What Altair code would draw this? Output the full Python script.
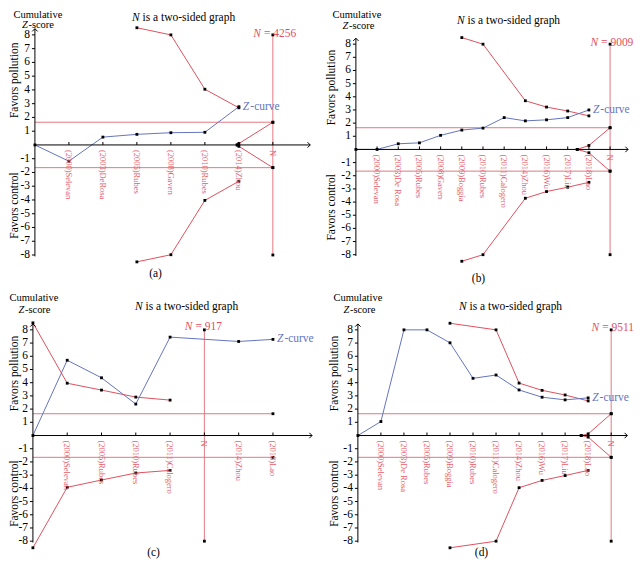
import altair as alt
import pandas as pd

FONT = "Liberation Serif, DejaVu Serif, serif"
RED = "#e0505e"
RED_LIGHT = "#e27883"
BLUE = "#6474c0"
LABEL_RED = "#e2606c"

# ---------------- data: panel (a) ----------------
A_LABELS = ["(2000)Selevan", "(2003)DeRosa", "(2005)Rubes", "(2008)Gaven",
            "(2010)Rubes", "(2014)Zhou", "N"]
A_Z_X = [0, 1, 2, 3, 4, 5, 6]
A_Z = [0, -1.18, 0.57, 0.77, 0.89, 0.92, 2.78]
A_B_X = [3, 4, 5, 6]
A_UPPER = [8.52, 8.0, 4.05, 2.70]
A_LOWER = [-8.50, -7.98, -4.03, -2.64]
A_W_X = [5.95, 6, 7]
A_W_UP = [0, 0.10, 1.65]
A_W_LO = [0, -0.10, -1.65]
A_N_POS = 7
A_N = 4256

# ---------------- data: panel (b) ----------------
B_LABELS = ["(2000)Selevan", "(2003)De Rosa", "(2005)Rubes", "(2008)Gaven",
            "(2009)Boggia", "(2010)Rubes", "(2011)Calogero", "(2014)Zhou",
            "(2016)Wu", "(2017)Liu", "(2018)Lao", "N"]
B_Z_X = [0, 1, 2, 3, 4, 5, 6, 7, 8, 9, 10, 11]
B_Z = [0, 0.0, 0.43, 0.50, 1.07, 1.47, 1.62, 2.42, 2.17, 2.25, 2.42, 3.00]
B_B_X = [5, 6, 8, 9, 10, 11]
B_UPPER = [8.50, 8.0, 3.70, 3.22, 2.92, 2.55]
B_LOWER = [-8.50, -8.0, -3.71, -3.20, -2.87, -2.50]
B_W_X = [10.45, 11, 12]
B_W_UP = [0, 0.30, 1.65]
B_W_LO = [0, -0.25, -1.65]
B_N_POS = 12
B_N = 9009

# ---------------- data: panel (c) ----------------
C_LABELS = ["(2000)Selevan", "(2005)Rubes", "(2010)Rubes", "(2011)Calogero",
            "N", "(2014)Zhou", "(2018)Lao"]
C_Z_X = [0, 1, 2, 3, 4, 6, 7]
C_Z = [0, 5.70, 4.37, 2.38, 7.45, 7.12, 7.28]
C_B_X = [0, 1, 2, 3, 4]
C_UPPER = [8.53, 3.96, 3.44, 2.91, 2.68]
C_LOWER = [-8.50, -3.92, -3.37, -2.84, -2.64]
C_W_X = []
C_W_UP = []
C_W_LO = []
C_N_POS = 5
C_N = 917
C_H_END = 7

# ---------------- data: panel (d) ----------------
D_LABELS = ["(2000)Selevan", "(2003)De Rosa", "(2005)Rubes", "(2009)Boggia",
            "(2010)Rubes", "(2011)Calogero", "(2014)Zhou", "(2016)Wu",
            "(2017)Liu", "(2018)Lao", "N"]
D_Z_X = [0, 1, 2, 3, 4, 5, 6, 7, 8, 9, 10]
D_Z = [0, 1.06, 8.0, 8.0, 7.02, 4.33, 4.58, 3.45, 2.90, 2.70, 2.85]
D_B_X = [4, 6, 7, 8, 9, 10]
D_UPPER = [8.50, 8.0, 3.97, 3.42, 3.07, 2.62]
D_LOWER = [-8.50, -8.0, -3.95, -3.40, -3.03, -2.64]
D_W_X = [9.7, 10, 11]
D_W_UP = [0, 0.12, 1.65]
D_W_LO = [0, -0.12, -1.65]
D_N_POS = 11
D_N = 9511

BOUNDARY = 1.65
Y_TICKS = [-8, -7, -6, -5, -4, -3, -2, -1, 1, 2, 3, 4, 5, 6, 7, 8]
Y_TICK_LABELS = ["-8", "-7", "-6", "-5", "-4", "-3", "-2", "-1",
                 "1", "2", "3", "4", "5", "6", "7", "8"]

ONE = pd.DataFrame({"a": [0]})


def txt(t, x, y, align="center", italic=False, color="black", size=11.5,
        baseline="alphabetic"):
    kw = dict(text=t, align=align, baseline=baseline, font=FONT,
              fontSize=size, color=color)
    if italic:
        kw["fontStyle"] = "italic"
    return alt.Chart(ONE).mark_text(**kw).encode(x=alt.value(x), y=alt.value(y))


def panel(labels, z_x, z_y, b_x, b_up, b_lo, w_x, w_up, w_lo, n_pos, n_val,
          h_end, caption, L, T):
    ppx, x0, W, ppu, y0, H = L["ppx"], L["x0"], L["W"], L["ppu"], L["y0"], L["H"]
    xs = alt.Scale(domain=[-x0 / ppx, (W - x0) / ppx], zero=False, nice=False)
    ys = alt.Scale(domain=[-(H - y0) / ppu, y0 / ppu], zero=False, nice=False)

    def X(f):
        return alt.X(f"{f}:Q", scale=xs, axis=None)

    def Y(f):
        return alt.Y(f"{f}:Q", scale=ys, axis=None)

    layers = []
    # conventional boundaries +-1.65
    hl = pd.DataFrame({"x": [0, 0], "x2": [h_end, h_end], "y": [BOUNDARY, -BOUNDARY]})
    layers.append(alt.Chart(hl).mark_rule(color=RED_LIGHT, strokeWidth=1)
                  .encode(x=X("x"), x2="x2", y=Y("y")))
    # required information size line
    vl = pd.DataFrame({"x": [n_pos], "y": [-8], "y2": [8]})
    layers.append(alt.Chart(vl).mark_rule(color=RED_LIGHT, strokeWidth=1)
                  .encode(x=X("x"), y=Y("y"), y2="y2"))
    # monitoring boundaries
    bd = pd.DataFrame({"x": b_x + b_x, "y": b_up + b_lo,
                       "s": ["u"] * len(b_x) + ["l"] * len(b_x)})
    layers.append(alt.Chart(bd).mark_line(color=RED, strokeWidth=1)
                  .encode(x=X("x"), y=Y("y"), detail="s:N"))
    if w_x:
        wd = pd.DataFrame({"x": w_x + w_x, "y": w_up + w_lo,
                           "s": ["u"] * len(w_x) + ["l"] * len(w_x)})
        layers.append(alt.Chart(wd).mark_line(color=RED, strokeWidth=1)
                      .encode(x=X("x"), y=Y("y"), detail="s:N"))
    # Z-curve
    zd = pd.DataFrame({"x": z_x, "y": z_y})
    layers.append(alt.Chart(zd).mark_line(color=BLUE, strokeWidth=1)
                  .encode(x=X("x"), y=Y("y")))
    # axis lines
    ya = pd.DataFrame({"x": [0], "y": [-8.1], "y2": [8.45]})
    layers.append(alt.Chart(ya).mark_rule(color="black", strokeWidth=1)
                  .encode(x=X("x"), y=Y("y"), y2="y2"))
    xa = pd.DataFrame({"x": [0], "x2": [L["xend"]], "y": [0]})
    layers.append(alt.Chart(xa).mark_rule(color="black", strokeWidth=1)
                  .encode(x=X("x"), x2="x2", y=Y("y")))
    # y ticks (to the left) and tick labels
    yt = pd.DataFrame({"x": [0] * len(Y_TICKS), "x2": [-3 / ppx] * len(Y_TICKS),
                       "y": Y_TICKS, "t": Y_TICK_LABELS})
    layers.append(alt.Chart(yt).mark_rule(color="black", strokeWidth=1)
                  .encode(x=X("x"), x2="x2", y=Y("y")))
    layers.append(alt.Chart(yt).mark_text(align="right", baseline="middle", dx=-5,
                                          font=FONT, fontSize=11.5, color="black")
                  .encode(x=X("x"), y=Y("y"), text="t:N"))
    # x ticks (upwards)
    xi = list(range(1, len(labels) + 1))
    xt = pd.DataFrame({"x": xi, "y": [0] * len(xi), "y2": [3 / ppu] * len(xi)})
    layers.append(alt.Chart(xt).mark_rule(color="black", strokeWidth=1)
                  .encode(x=X("x"), y=Y("y"), y2="y2"))
    # arrow heads
    layers.append(alt.Chart(pd.DataFrame({"x": [0], "y": [8.45]}))
                  .mark_point(shape="M-0.7,0.7L0,0L0.7,0.7", size=60, filled=False,
                              color="black", strokeWidth=1, opacity=1)
                  .encode(x=X("x"), y=Y("y")))
    layers.append(alt.Chart(pd.DataFrame({"x": [L["xend"]], "y": [0]}))
                  .mark_point(shape="M-0.7,-0.7L0,0L-0.7,0.7", size=60, filled=False,
                              color="black", strokeWidth=1, opacity=1)
                  .encode(x=X("x"), y=Y("y")))
    # black vertex markers
    px = z_x + b_x + b_x + w_x + w_x + [n_pos, n_pos, h_end, h_end]
    py = z_y + b_up + b_lo + w_up + w_lo + [8, -8, BOUNDARY, -BOUNDARY]
    layers.append(alt.Chart(pd.DataFrame({"x": px, "y": py}))
                  .mark_square(size=8, color="black", opacity=1)
                  .encode(x=X("x"), y=Y("y")))
    # study labels along the x axis
    ld = pd.DataFrame({"x": xi, "y": [0] * len(labels), "t": labels})
    layers.append(alt.Chart(ld).mark_text(angle=90, align="left", baseline="middle",
                                          dx=5, font=FONT, fontSize=8.5, color=LABEL_RED)
                  .encode(x=X("x"), y=Y("y"), text="t:N"))
    # Z-curve label
    zl = pd.DataFrame({"x": [z_x[-1]], "y": [z_y[-1]]})
    layers.append(alt.Chart(zl).mark_text(text="Z", align="left", baseline="middle", dx=4,
                                          font=FONT, fontSize=11.5, fontStyle="italic",
                                          color=BLUE)
                  .encode(x=X("x"), y=Y("y")))
    layers.append(alt.Chart(zl).mark_text(text="-curve", align="left", baseline="middle",
                                          dx=11.5, font=FONT, fontSize=11.5, color=BLUE)
                  .encode(x=X("x"), y=Y("y")))
    # N = ... label
    nl = pd.DataFrame({"x": [n_pos]})
    layers.append(alt.Chart(nl).mark_text(text="N", align="right", dx=-12, font=FONT,
                                          fontSize=11.5, fontStyle="italic", color=RED)
                  .encode(x=X("x"), y=alt.value(T["ny"])))
    layers.append(alt.Chart(nl).mark_text(text=f"= {n_val}", align="left", dx=-9,
                                          font=FONT, fontSize=11.5, color=RED)
                  .encode(x=X("x"), y=alt.value(T["ny"])))
    # side titles
    layers.append(alt.Chart(pd.DataFrame({"y": [4.7]}))
                  .mark_text(text="Favors pollution", angle=270, align="center",
                             baseline="middle", font=FONT, fontSize=11.5, color="black")
                  .encode(x=alt.value(T["fx"]), y=Y("y")))
    layers.append(alt.Chart(pd.DataFrame({"y": [-4.4]}))
                  .mark_text(text="Favors control", angle=270, align="center",
                             baseline="middle", font=FONT, fontSize=11.5, color="black")
                  .encode(x=alt.value(T["fx"]), y=Y("y")))
    # header texts
    cx, cy = T["cum"]
    layers.append(txt("Cumulative", cx, cy, size=10.5))
    zx, zy = T["zs"]
    layers.append(txt("Z", zx - 10, zy, align="right", italic=True, size=10.5))
    layers.append(txt("-score", zx - 9.5, zy, align="left", size=10.5))
    tx, ty = T["title"]
    layers.append(txt("N", tx, ty, align="right", italic=True))
    layers.append(txt("is a two-sided graph", tx + 3, ty, align="left"))
    kx, ky = T["cap"]
    layers.append(txt(caption, kx, ky))

    return alt.layer(*layers).properties(width=W, height=H)


LA = dict(ppx=34.1, x0=27, W=310, ppu=13.8, y0=135.5, H=270, xend=8.1)
LB = dict(ppx=21.25, x0=31, W=304, ppu=13.2, y0=140, H=270, xend=12.85)
LC = dict(ppx=34.4, x0=25, W=310, ppu=13.25, y0=145, H=271, xend=8.14)
LD = dict(ppx=23.1, x0=33, W=304, ppu=13.25, y0=145, H=271, xend=11.7)

TA = dict(cum=(30, 7.8), zs=(30, 17.8), title=(132, 11), cap=(148, 268), ny=24, fx=7)
TB = dict(cum=(32, 8), zs=(33.5, 19.5), title=(140, 14), cap=(154, 273), ny=33, fx=7)
TC = dict(cum=(26, 10), zs=(26.5, 22.5), title=(135, 19), cap=(146, 266), ny=36, fx=7)
TD = dict(cum=(33, 10), zs=(34.5, 22.5), title=(142, 19), cap=(157, 266), ny=37, fx=10)

pa = panel(A_LABELS, A_Z_X, A_Z, A_B_X, A_UPPER, A_LOWER, A_W_X, A_W_UP, A_W_LO,
           A_N_POS, A_N, A_N_POS, "(a)", LA, TA)
pb = panel(B_LABELS, B_Z_X, B_Z, B_B_X, B_UPPER, B_LOWER, B_W_X, B_W_UP, B_W_LO,
           B_N_POS, B_N, B_N_POS, "(b)", LB, TB)
pc = panel(C_LABELS, C_Z_X, C_Z, C_B_X, C_UPPER, C_LOWER, C_W_X, C_W_UP, C_W_LO,
           C_N_POS, C_N, C_H_END, "(c)", LC, TC)
pd_ = panel(D_LABELS, D_Z_X, D_Z, D_B_X, D_UPPER, D_LOWER, D_W_X, D_W_UP, D_W_LO,
            D_N_POS, D_N, D_N_POS, "(d)", LD, TD)

chart = alt.concat(
    pa, pb, pc, pd_, columns=2, bounds="flush",
    spacing=alt.RowColnumber(row=12, column=8),
).properties(padding=0).configure_view(stroke=None)

chart.save("out.html", embed_options={"renderer": "svg", "actions": False})
